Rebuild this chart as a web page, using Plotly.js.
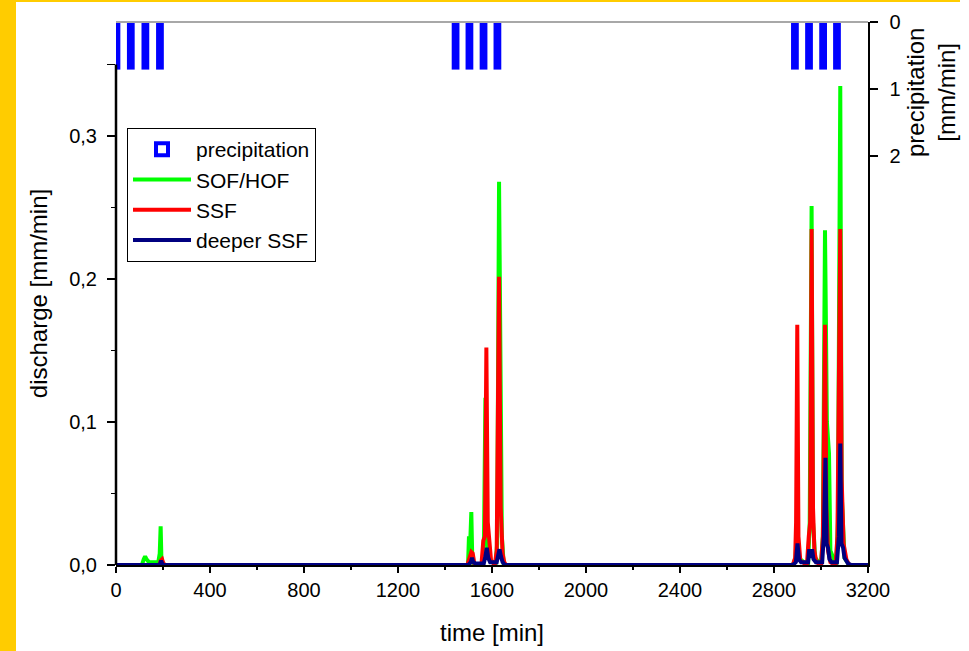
<!DOCTYPE html>
<html>
<head>
<meta charset="utf-8">
<script src="https://cdn.plot.ly/plotly-3.0.1.min.js"></script>
<style>html,body{margin:0;padding:0;background:#fff;}#chart{width:969px;height:651px;}</style>
</head>
<body>
<div id="chart"></div>
<script>
// Precipitation (mm/min), plotted downward from the top right axis
const precipTime = [2, 63, 125, 187, 1445, 1504, 1564, 1623, 2889, 2949, 3009, 3068];
const precipValue = [0.68, 0.68, 0.68, 0.68, 0.68, 0.68, 0.68, 0.68, 0.68, 0.68, 0.68, 0.68];

// SOF/HOF discharge (mm/min)
const sofTime = [0, 110, 118, 124, 130, 140, 180, 186, 190, 193, 198, 210,
  1490, 1498, 1502, 1506, 1512, 1516, 1522, 1560, 1566, 1572, 1578, 1585, 1615, 1622, 1630, 1636, 1642, 1650, 1670,
  2880, 2892, 2898, 2903, 2945, 2952, 2960, 2966, 2975, 3000, 3008, 3017, 3025, 3034, 3040, 3065, 3072, 3082, 3088, 3100, 3120, 3200];
const sofValue = [0, 0, 0.004, 0.006, 0.004, 0.002, 0.002, 0.008, 0.027, 0.006, 0.001, 0,
  0, 0, 0.02, 0.01, 0.037, 0.005, 0, 0, 0.02, 0.117, 0.02, 0.005, 0, 0.015, 0.268, 0.12, 0.02, 0, 0,
  0, 0.005, 0.03, 0.005, 0, 0.03, 0.251, 0.03, 0.005, 0, 0.02, 0.234, 0.1, 0.078, 0.01, 0, 0.03, 0.335, 0.05, 0.005, 0, 0];

// SSF discharge (mm/min)
const ssfTime = [0, 185, 190, 196, 202, 210,
  1495, 1505, 1512, 1518, 1525, 1555, 1563, 1570, 1576, 1582, 1590, 1596, 1612, 1620, 1630, 1637, 1645, 1652, 1660,
  2880, 2890, 2894, 2899, 2904, 2912, 2940, 2948, 2954, 2960, 2966, 2972, 2980, 3000, 3008, 3017, 3023, 3030, 3040, 3062, 3070, 3082, 3088, 3096, 3108, 3120, 3200];
const ssfValue = [0, 0, 0.003, 0.004, 0.001, 0,
  0, 0.005, 0.009, 0.008, 0.001, 0, 0.017, 0.02, 0.152, 0.03, 0.017, 0.003, 0, 0.01, 0.2016, 0.04, 0.008, 0.002, 0,
  0, 0.005, 0.03, 0.168, 0.02, 0.003, 0, 0.02, 0.03, 0.235, 0.04, 0.01, 0.002, 0, 0.02, 0.168, 0.04, 0.01, 0.002, 0, 0.02, 0.235, 0.06, 0.015, 0.004, 0, 0];

// deeper SSF discharge (mm/min)
const deepTime = [0, 186, 192, 200,
  1500, 1510, 1515, 1520, 1530, 1565, 1572, 1578, 1584, 1592, 1620, 1626, 1632, 1638, 1645, 1655,
  2880, 2893, 2900, 2906, 2915, 2945, 2950, 2956, 2962, 2968, 2978, 3005, 3012, 3019, 3024, 3030, 3036, 3045, 3068, 3076, 3082, 3087, 3094, 3100, 3115, 3130, 3200];
const deepValue = [0, 0, 0.003, 0,
  0, 0.002, 0.005, 0.002, 0.001, 0.001, 0.006, 0.012, 0.005, 0.002, 0.002, 0.008, 0.011, 0.006, 0.002, 0,
  0, 0.002, 0.015, 0.004, 0.002, 0.002, 0.011, 0.005, 0.011, 0.004, 0.002, 0.002, 0.02, 0.075, 0.015, 0.012, 0.004, 0.002, 0.002, 0.02, 0.085, 0.015, 0.012, 0.005, 0.001, 0, 0];

const leftTickVals = [0, 0.1, 0.2, 0.3, 0.35];
const leftTickText = ['0,0', '0,1', '0,2', '0,3', ''];
const rightTickVals = [0, 1, 2];
const xTickVals = [0, 400, 800, 1200, 1600, 2000, 2400, 2800, 3200];

const FONT = 'Arial, "Liberation Sans", sans-serif';

const traces = [
  {
    type: 'bar', name: 'precipitation', x: precipTime, y: precipValue, yaxis: 'y2',
    width: 16, legendgroup: 'g1',
    marker: {color: 'rgba(0,0,255,0)', line: {color: '#0000ff', width: 4}}
  },
  {type: 'scatter', mode: 'lines', name: 'SOF/HOF', x: sofTime, y: sofValue, legendgroup: 'g2',
   line: {color: '#00ff00', width: 4}},
  {type: 'scatter', mode: 'lines', name: 'SSF', x: ssfTime, y: ssfValue, legendgroup: 'g3',
   line: {color: '#ff0000', width: 4}},
  {type: 'scatter', mode: 'lines', name: 'deeper SSF', x: deepTime, y: deepValue, legendgroup: 'g4',
   line: {color: '#000080', width: 4}}
];

const px = v => (v - 116) / 752;
const py = v => (565 - v) / 543;

const layout = {
  width: 969, height: 651,
  margin: {l: 116, r: 101, t: 22, b: 86},
  paper_bgcolor: '#ffffff', plot_bgcolor: '#ffffff',
  font: {family: FONT, size: 20, color: '#000'},
  showlegend: true,
  legend: {
    x: px(127), y: py(128), xanchor: 'left', yanchor: 'top',
    bgcolor: '#ffffff', bordercolor: '#000', borderwidth: 1,
    font: {family: FONT, size: 21, color: '#000'},
    itemwidth: 58, tracegroupgap: 3, traceorder: 'normal'
  },
  xaxis: {
    range: [0, 3200], tickvals: xTickVals, ticks: 'outside', ticklen: 6, tickwidth: 1.5, tickcolor: '#000',
    showline: true, linecolor: '#000', linewidth: 2, showgrid: false, zeroline: false, layer: 'below traces',
    minor: {dtick: 200, tick0: 0, ticks: 'outside', ticklen: 3, tickcolor: '#000', showgrid: false},
    tickfont: {size: 20},
    title: {text: 'time [min]', font: {size: 24}, standoff: 24}
  },
  yaxis: {
    range: [0, 0.3797], tickvals: leftTickVals, ticktext: leftTickText,
    ticks: 'outside', ticklen: 8, tickwidth: 1.5, tickcolor: '#000', ticklabelstandoff: 6,
    showline: false, showgrid: false, zeroline: false,
    minor: {tickvals: [0.05, 0.15, 0.25], ticks: 'outside', ticklen: 4, tickcolor: '#000', showgrid: false},
    tickfont: {size: 20},
    title: {text: 'discharge [mm/min]', font: {size: 24}, standoff: 14}
  },
  yaxis2: {
    overlaying: 'y', side: 'right', anchor: 'x', range: [8.1, 0],
    tickvals: rightTickVals, ticks: 'outside', ticklen: 8, tickwidth: 1.5, tickcolor: '#000', ticklabelstandoff: 8,
    showline: true, linecolor: '#000', linewidth: 1.5, showgrid: false, zeroline: false,
    tickfont: {size: 20}
  },
  bargap: 0,
  shapes: [
    {type: 'rect', xref: 'paper', yref: 'paper', x0: px(0), x1: px(16), y0: py(660), y1: py(-5),
     fillcolor: '#ffcc00', line: {width: 0}, layer: 'below'},
    {type: 'rect', xref: 'paper', yref: 'paper', x0: px(0), x1: px(960), y0: py(2), y1: py(-5),
     fillcolor: '#ffcc00', line: {width: 0}, layer: 'below'},
    {type: 'line', xref: 'paper', yref: 'paper', x0: 0, x1: 1, y0: 1, y1: 1,
     line: {color: '#a8a8a8', width: 2}},
    {type: 'line', xref: 'paper', yref: 'y', x0: 0, x1: 0, y0: 0, y1: 0.35,
     line: {color: '#000', width: 2.5}}
  ],
  annotations: [
    {xref: 'paper', yref: 'paper', x: px(931), y: py(92), text: 'precipitation<br>[mm/min]',
     textangle: -90, showarrow: false, font: {family: FONT, size: 24, color: '#000'},
     xanchor: 'center', yanchor: 'middle'}
  ]
};

Plotly.newPlot('chart', traces, layout, {staticPlot: true, displayModeBar: false});
</script>
</body>
</html>
